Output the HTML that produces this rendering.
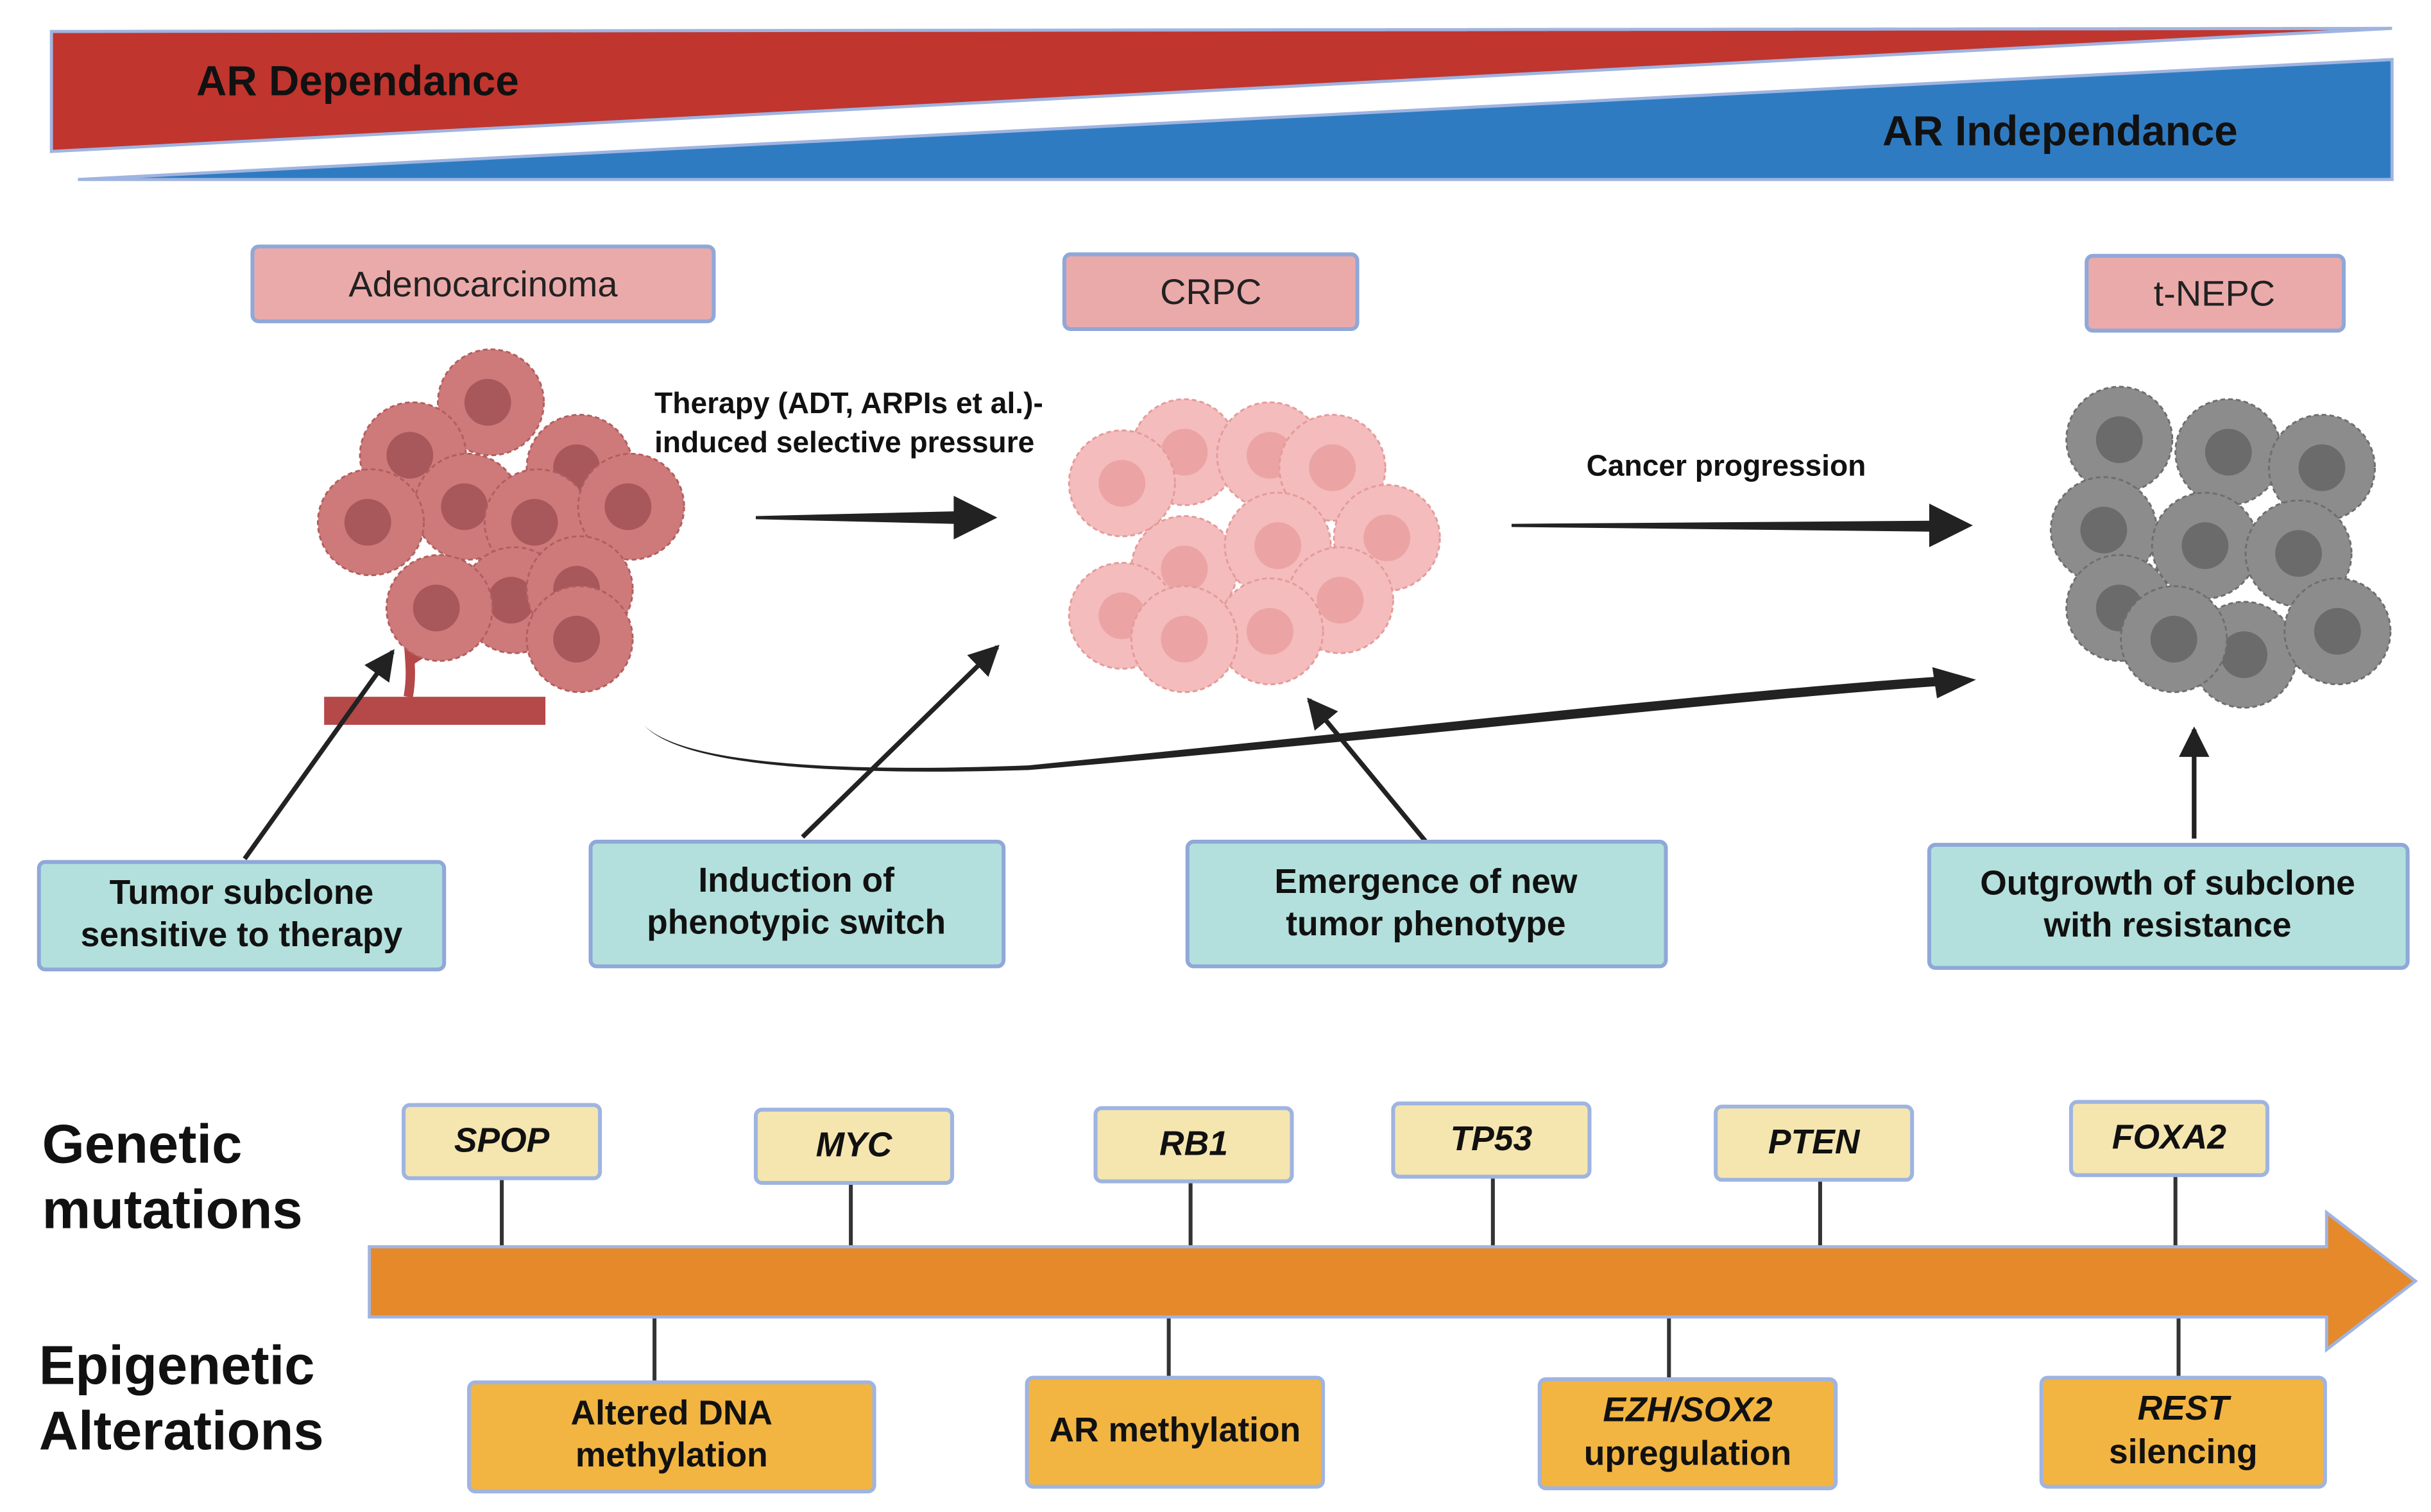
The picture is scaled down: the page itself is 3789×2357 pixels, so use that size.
<!DOCTYPE html>
<html><head><meta charset="utf-8"><style>
html,body{margin:0;padding:0;background:#fff;}
svg{display:block;}
text{font-family:"Liberation Sans",sans-serif;}
</style></head><body>
<svg width="3789" height="2357" viewBox="0 0 1560 970" xmlns="http://www.w3.org/2000/svg">
<defs>
<g id="cr"><circle r="34" fill="#cf7a7a" stroke="#b25e5e" stroke-width="1.2" stroke-dasharray="3 2"/><circle r="15" cx="-2" cy="0" fill="#a8585a"/></g>
<g id="cp"><circle r="34" fill="#f4bcbc" stroke="#e59a9a" stroke-width="1.2" stroke-dasharray="3 2"/><circle r="15" fill="#eba3a3"/></g>
<g id="cg"><circle r="34" fill="#8c8c8c" stroke="#6e6e6e" stroke-width="1.2" stroke-dasharray="3 2"/><circle r="15" fill="#6b6b6b"/></g>
<marker id="ah" viewBox="0 0 10 10" refX="9" refY="5" markerWidth="6.5" markerHeight="6.5" orient="auto"><path d="M0,0L10,5L0,10z" fill="#222"/></marker>
</defs>
<polygon points="33,20 1535,18 33,97" fill="#c0352e" stroke="#9fb4e0" stroke-width="2"/>
<polygon points="50,115 1535,38 1535,115" fill="#2f7bc2" stroke="#9fb4e0" stroke-width="2"/>
<text x="126" y="61" font-size="27" font-weight="bold" fill="#111">AR Dependance</text>
<text x="1208" y="93" font-size="27" font-weight="bold" fill="#111">AR Independance</text>
<g fill="#ebaaaa" stroke="#8fa8d8" stroke-width="2.5">
<rect x="162" y="158" width="296" height="48" rx="4"/>
<rect x="683" y="163" width="188" height="48" rx="4"/>
<rect x="1339" y="164" width="165" height="48" rx="4"/>
</g>
<g font-size="23" fill="#222" text-anchor="middle">
<text x="310" y="190">Adenocarcinoma</text>
<text x="777" y="195">CRPC</text>
<text x="1421" y="196">t-NEPC</text>
</g>
<rect x="208" y="447" width="142" height="18" fill="#b54848"/>
<path d="M262,447 C265,430 262,420 262,405 M262,425 C275,415 290,412 300,405" stroke="#b54848" stroke-width="6" fill="none"/>
<use href="#cr" x="315" y="258"/><use href="#cr" x="265" y="292"/><use href="#cr" x="372" y="300"/>
<use href="#cr" x="300" y="325"/><use href="#cr" x="345" y="335"/><use href="#cr" x="405" y="325"/>
<use href="#cr" x="238" y="335"/><use href="#cr" x="330" y="385"/><use href="#cr" x="372" y="378"/>
<use href="#cr" x="282" y="390"/><use href="#cr" x="372" y="410"/>
<use href="#cp" x="760" y="290"/><use href="#cp" x="815" y="292"/><use href="#cp" x="720" y="310"/>
<use href="#cp" x="855" y="300"/><use href="#cp" x="890" y="345"/><use href="#cp" x="760" y="365"/>
<use href="#cp" x="820" y="350"/><use href="#cp" x="720" y="395"/><use href="#cp" x="860" y="385"/>
<use href="#cp" x="815" y="405"/><use href="#cp" x="760" y="410"/>
<use href="#cg" x="1360" y="282"/><use href="#cg" x="1430" y="290"/><use href="#cg" x="1490" y="300"/>
<use href="#cg" x="1350" y="340"/><use href="#cg" x="1415" y="350"/><use href="#cg" x="1475" y="355"/>
<use href="#cg" x="1360" y="390"/><use href="#cg" x="1440" y="420"/><use href="#cg" x="1500" y="405"/>
<use href="#cg" x="1395" y="410"/>
<text x="420" y="265" font-size="19" font-weight="bold" fill="#111">Therapy (ADT, ARPIs et al.)-</text>
<text x="420" y="290" font-size="19" font-weight="bold" fill="#111">induced selective pressure</text>
<text x="1018" y="305" font-size="19" font-weight="bold" fill="#111">Cancer progression</text>
<polygon points="485,331 612,328 612,318 640,332 612,346 612,336 485,333" fill="#222"/>
<polygon points="970,336 1238,334 1238,323 1266,337 1238,351 1238,341 970,338" fill="#222"/>
<path d="M413,465 C440,495 560,497 660,494 C900,474 1100,450 1245,440 L1245,434 C1100,444 900,467 660,491 C560,495 440,493 413,465 Z" fill="#222"/>
<polygon points="1240,428 1268,436 1243,448" fill="#222"/>
<g stroke="#222" stroke-width="3" marker-end="url(#ah)">
<line x1="157" y1="551" x2="252" y2="418"/>
<line x1="515" y1="537" x2="640" y2="415"/>
<line x1="915" y1="540" x2="840" y2="449"/>
<line x1="1408" y1="538" x2="1408" y2="468"/>
</g>
<g fill="#b3e0dc" stroke="#8fa8d8" stroke-width="2.5">
<rect x="25" y="553" width="260" height="69" rx="4"/>
<rect x="379" y="540" width="265" height="80" rx="4"/>
<rect x="762" y="540" width="307" height="80" rx="4"/>
<rect x="1238" y="542" width="307" height="79" rx="4"/>
</g>
<g font-size="22" font-weight="bold" fill="#111" text-anchor="middle">
<text x="155" y="580">Tumor subclone</text><text x="155" y="607">sensitive to therapy</text>
<text x="511" y="572">Induction of</text><text x="511" y="599">phenotypic switch</text>
<text x="915" y="573">Emergence of new</text><text x="915" y="600">tumor phenotype</text>
<text x="1391" y="574">Outgrowth of subclone</text><text x="1391" y="601">with resistance</text>
</g>
<g font-size="35" font-weight="bold" fill="#111">
<text x="27" y="746">Genetic</text><text x="27" y="788">mutations</text>
<text x="25" y="888">Epigenetic</text><text x="25" y="930">Alterations</text>
</g>
<g stroke="#333" stroke-width="2.5">
<line x1="322" y1="756" x2="322" y2="800"/><line x1="546" y1="759" x2="546" y2="800"/>
<line x1="764" y1="758" x2="764" y2="800"/><line x1="958" y1="755" x2="958" y2="800"/>
<line x1="1168" y1="757" x2="1168" y2="800"/><line x1="1396" y1="754" x2="1396" y2="800"/>
<line x1="420" y1="845" x2="420" y2="887"/><line x1="750" y1="845" x2="750" y2="884"/>
<line x1="1071" y1="845" x2="1071" y2="885"/><line x1="1398" y1="845" x2="1398" y2="884"/>
</g>
<polygon points="237,800 1493,800 1493,778 1550,822 1493,866 1493,845 237,845" fill="#e5892b" stroke="#9fb4e0" stroke-width="2"/>
<g fill="#f5e6b0" stroke="#9fb4e0" stroke-width="2.5">
<rect x="259" y="709" width="126" height="47" rx="4"/><rect x="485" y="712" width="126" height="47" rx="4"/>
<rect x="703" y="711" width="126" height="47" rx="4"/><rect x="894" y="708" width="126" height="47" rx="4"/>
<rect x="1101" y="710" width="126" height="47" rx="4"/><rect x="1329" y="707" width="126" height="47" rx="4"/>
</g>
<g font-size="22" font-weight="bold" font-style="italic" fill="#111" text-anchor="middle">
<text x="322" y="739">SPOP</text><text x="548" y="742">MYC</text><text x="766" y="741">RB1</text>
<text x="957" y="738">TP53</text><text x="1164" y="740">PTEN</text><text x="1392" y="737">FOXA2</text>
</g>
<g fill="#f2b542" stroke="#9fb4e0" stroke-width="2.5">
<rect x="301" y="887" width="260" height="70" rx="4"/><rect x="659" y="884" width="190" height="70" rx="4"/>
<rect x="988" y="885" width="190" height="70" rx="4"/><rect x="1310" y="884" width="182" height="70" rx="4"/>
</g>
<g font-size="22" font-weight="bold" fill="#111" text-anchor="middle">
<text x="431" y="914">Altered DNA</text><text x="431" y="941">methylation</text>
<text x="754" y="925">AR methylation</text>
<text x="1083" y="912" font-style="italic">EZH/SOX2</text><text x="1083" y="940">upregulation</text>
<text x="1401" y="911" font-style="italic">REST</text><text x="1401" y="939">silencing</text>
</g>
</svg>
</body></html>
